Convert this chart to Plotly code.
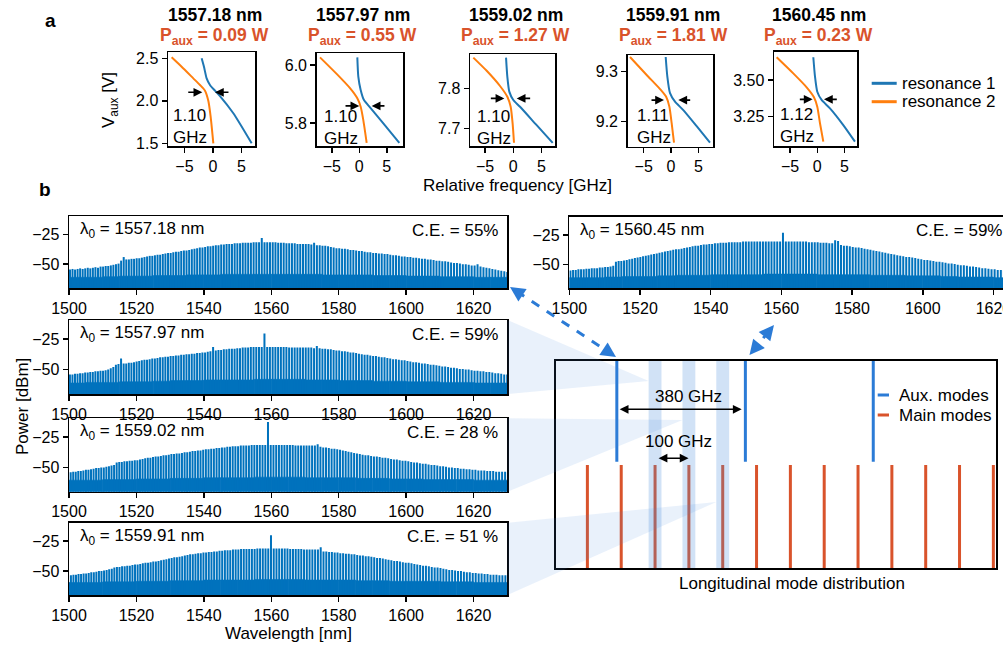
import math
import plotly.graph_objects as go

W, H = 1003, 647
C_NM_THZ = 299792.458
SPACING_THZ = 0.1
FONT = "Liberation Sans, Arial, sans-serif"
BLUE_R1 = "#1f77b4"
ORANGE_R2 = "#ff7f0e"
RED = "#d9532b"
AUXBLUE = "#2b7bd6"
SPEC = "#0072bd"

# ---------------- panel a data ----------------
a_wavelengths = ["1557.18 nm", "1557.97 nm", "1559.02 nm", "1559.91 nm", "1560.45 nm"]
a_paux = ["0.09", "0.55", "1.27", "1.81", "0.23"]
a_gap = ["1.10", "1.10", "1.10", "1.11", "1.12"]

res1_f = [[-1.99, -1.58, -1.11, -0.53, 0.35, 1.23, 3.57, 6.78],
          [-0.36, -0.18, 0.25, 0.85, 1.95, 4.37, 7.28],
          [-1.29, -1.06, -0.71, 0.0, 1.19, 4.14, 6.98],
          [-0.97, -0.67, -0.18, 0.73, 2.25, 4.69, 7.13],
          [-0.73, -0.42, 0.0, 0.80, 2.34, 4.79, 6.94]]
res1_v = [[2.50, 2.40, 2.264, 2.186, 2.119, 2.056, 1.853, 1.50],
          [6.026, 5.960, 5.914, 5.879, 5.854, 5.799, 5.732],
          [7.877, 7.829, 7.792, 7.771, 7.754, 7.708, 7.664],
          [9.329, 9.290, 9.257, 9.240, 9.223, 9.191, 9.158],
          [3.655, 3.523, 3.420, 3.364, 3.307, 3.193, 3.080]]
res2_f = [[-7.25, -5.5, -3.45, -2.28, -1.4, -0.82, -0.41, 0.06],
          [-7.15, -4.12, -1.69, -0.36, 0.25, 0.73, 1.34],
          [-7.09, -4.72, -2.36, -1.06, -0.47, -0.12, 0.12],
          [-7.5, -4.45, -2.01, -0.91, -0.30, 0.12, 0.55],
          [-7.48, -4.42, -1.96, -0.61, 0.0, 0.5, 1.11]]
res2_v = [[2.511, 2.40, 2.264, 2.186, 2.119, 2.0, 1.813, 1.50],
          [6.026, 5.969, 5.920, 5.885, 5.856, 5.810, 5.732],
          [7.877, 7.844, 7.806, 7.779, 7.754, 7.712, 7.664],
          [9.329, 9.293, 9.265, 9.250, 9.230, 9.197, 9.158],
          [3.655, 3.545, 3.450, 3.382, 3.318, 3.205, 3.080]]
# gap arrows: (y, left tail, left tip, right tail, right tip)
gap_arrows = [(2.10, -4.6, -1.87, 2.98, 0.35),
              (5.859, -2.78, 0.0, 4.85, 2.25),
              (7.775, -4.25, -1.59, 3.25, 0.6),
              (9.243, -3.84, -1.28, 3.78, 1.34),
              (3.368, -3.49, -0.86, 3.87, 1.23)]
gap_text_pos = [(-7.4, 1.70), (-6.85, 5.785), (-6.8, 7.703), (-6.58, 9.191), (-7.2, 3.193)]
a_xrange = [(-7.89, 7.37), (-7.75, 7.95), (-7.68, 7.39), (-7.92, 7.68), (-7.97, 7.37)]
a_yrange = [(1.468, 2.574), (5.721, 6.041), (7.656, 7.886), (9.15, 9.333), (3.05, 3.693)]
a_yticks = [[1.5, 2.0, 2.5], [5.8, 6.0], [7.7, 7.8], [9.2, 9.3], [3.25, 3.50]]
a_yfmt = [".1f", ".1f", ".1f", ".1f", ".2f"]

# ---------------- panel b data ----------------
pumps_nm = [1557.18, 1557.97, 1559.02, 1559.91, 1560.45]
ce_text = ["55%", "59%", "28 %", "51 %", "59%"]

peaks_1557_18 = [
    -54.5, -54, -54.5, -54, -53.5, -54, -53.5, -53, -53.5, -53,
    -52.5, -53, -52, -52, -51.5, -51.5, -51, -50.5, -50, -49.5,
    -47, -44, -46, -46, -45.5, -45.5, -45, -45, -44.5, -44,
    -43.5, -43, -43, -42.5, -42, -42, -41.5, -41, -40.5, -40.5,
    -40, -39.5, -39.5, -39, -38.5, -38.5, -38, -37.5, -37, -36.5,
    -36, -36, -35.5, -35, -35, -34.5, -34, -34, -33.5, -33.5,
    -33, -33, -33, -32.5, -32.5, -32.5, -32, -32, -32, -32,
    -31.5, -31.5, -31.5, -28, -31.5, -31.5, -31.5, -31.5, -31.5, -32,
    -32, -32, -32.5, -32.5, -32.5, -32.5, -33, -33, -33, -33,
    -33, -33.5, -32, -34, -34, -34.5, -34.5, -35, -35.5, -36,
    -36.5, -36.5, -37, -37, -37.5, -38, -38, -38.5, -39, -39,
    -39.5, -40, -40, -40.5, -40.5, -41, -41, -41.5, -41.5, -42,
    -42.5, -42.5, -43, -43.5, -43.5, -44, -44, -44.5, -44.5, -45,
    -45.5, -45.5, -46, -46, -46.5, -47, -47, -47.5, -47.5, -48,
    -48.5, -49, -49, -49.5, -50, -50, -50.5, -51, -51, -50,
    -52, -52.5, -53, -53.5, -54, -54.5, -55, -55.5, -56, -56.5]
peaks_1557_97 = [
    -54, -54, -53.5, -53.5, -53, -53, -52.5, -52.5, -52, -52,
    -51.5, -51.5, -51, -51, -50.5, -50, -49, -48, -46, -45.5,
    -41, -45, -45, -44.5, -44.5, -44, -43.5, -43, -42.5, -42,
    -42, -41.5, -41, -41, -40.5, -40, -40, -39.5, -39.5, -39,
    -39, -38.5, -38.5, -38, -38, -37.5, -37.5, -37, -37, -36.5,
    -36.5, -36, -36, -35.5, -35, -31.6, -34.5, -34, -34, -33.5,
    -33.5, -33, -33, -33, -32.5, -32.5, -32, -32, -32, -31.5,
    -31.5, -31.5, -31.5, -31.5, -20.5, -31.5, -31.5, -31.5, -31.5, -31.5,
    -31.5, -31.5, -31.5, -32, -32, -32, -32, -32, -32, -32,
    -32, -32, -32.5, -30.8, -32.5, -33, -33, -33.5, -33.5, -34,
    -34.5, -34.5, -35, -35, -35.5, -36, -36, -36.5, -37, -37.5,
    -38, -38, -38.5, -39, -39, -39.5, -40, -40, -40.5, -41,
    -41.5, -41.5, -42, -42.5, -42.5, -43, -43.5, -44, -44, -44.5,
    -45, -45, -45.5, -46, -46, -46.5, -47, -47.5, -47.5, -48,
    -48.5, -48.5, -49, -49.5, -49.5, -50, -50, -50.5, -51, -51,
    -51.5, -51.5, -52, -52, -52.5, -53, -53, -53.5, -54, -54]
peaks_1559_02 = [
    -54, -53.5, -53.5, -53, -53, -52.5, -52, -52, -51.5, -51,
    -50.5, -50.5, -50, -50, -49.5, -49, -48.5, -48, -46, -45.5,
    -45.5, -45, -45, -44.5, -44.5, -44, -44, -43.5, -43, -42.5,
    -42, -42, -41.5, -41, -41, -40.5, -40, -40, -39.5, -39,
    -39, -38.5, -38.5, -38, -37.5, -37.5, -37, -36.5, -36.5, -36,
    -36, -35.5, -35, -35, -34.5, -34.5, -34, -34, -33.5, -33.5,
    -33, -33, -32.5, -32.5, -32.5, -32, -32, -32, -32, -31.5,
    -31.5, -31.5, -31.5, -31.5, -31.5, -12.6, -31.5, -31.5, -31.5, -31.5,
    -31.5, -31.5, -31.5, -31.5, -31.5, -32, -32, -32, -32, -32,
    -32, -32, -32, -30.8, -33, -33.5, -33.5, -34, -34.5, -34.5,
    -35, -35.5, -36, -36.5, -37, -37.5, -38, -38.5, -39, -39.5,
    -40, -40, -40.5, -41, -41, -41.5, -42, -42, -42.5, -43,
    -43.5, -43.5, -44, -44.5, -44.5, -45, -45.5, -46, -46, -46.5,
    -47, -47, -47.5, -48, -48, -48.5, -49, -49, -49.5, -50,
    -50, -50.5, -50.5, -51, -51, -51.5, -51.5, -52, -52, -52.5,
    -52.5, -52.5, -53, -53, -53, -53.5, -53.5, -53.5, -53.5]
peaks_1559_91 = [
    -53.5, -53, -53, -52.5, -52.5, -52, -52, -51.5, -51, -51,
    -50.5, -50, -50, -49.5, -49, -48.5, -48, -47, -46.5, -46.5,
    -46, -46, -45.5, -45.5, -45, -44.5, -44.5, -44, -43.5, -43,
    -43, -42.5, -42, -42, -41.5, -41, -40.5, -40, -39.5, -39,
    -38.5, -38.5, -38, -37.5, -37, -36.5, -36, -36, -35.5, -35,
    -35, -34.5, -34.5, -34, -34, -33.5, -33.5, -33, -33, -32.5,
    -32.5, -32.5, -32, -32, -32, -31.5, -31.5, -31.5, -31.5, -31.5,
    -31.5, -31, -31, -31, -31, -31, -20, -31, -31, -31,
    -31, -31, -31, -31.5, -31.5, -31.5, -31.5, -31.5, -32, -32,
    -32, -32, -32, -32, -30, -33.5, -33.5, -34, -34, -34.5,
    -34.5, -35, -35, -35.5, -35.5, -36, -36, -36.5, -37, -37,
    -37.5, -37.5, -38, -38.5, -39, -39, -39.5, -40, -40.5, -41,
    -41.5, -41.5, -42, -42.5, -43, -43, -43.5, -44, -44.5, -45,
    -45.5, -45.5, -46, -46.5, -47, -47, -47.5, -48, -48.5, -49,
    -49, -49.5, -50, -50, -50.5, -51, -51, -51.5, -51.5, -52,
    -52, -52.5, -52.5, -53, -53, -53, -53.5, -53.5, -53.5]
peaks_1560_45 = [
    -55, -54.5, -54.5, -54, -54, -54, -53.5, -53.5, -53, -53,
    -53, -52.5, -52.5, -52, -52, -51.5, -51, -47.5, -47, -47,
    -46.5, -46, -45.5, -45, -44.5, -44, -43.5, -43, -42.5, -42,
    -41.5, -41, -40.5, -40, -39.5, -39, -38.5, -38, -37.5, -37,
    -37, -36.5, -36, -35.5, -35, -34.5, -34, -34, -33.5, -33,
    -33, -32.5, -32.5, -32, -32, -31.5, -31.5, -31.5, -31, -31,
    -31, -31, -31, -30.5, -30.5, -30.5, -30.5, -30.5, -30.5, -30.5,
    -30.5, -30.5, -30.5, -30.5, -30.5, -30.5, -30.5, -23, -30.5, -30.5,
    -30.5, -30.5, -30.5, -30.5, -30.5, -30.5, -31, -31, -31, -31,
    -31.5, -31.5, -31.5, -32, -32, -29.5, -30, -33.5, -34, -34,
    -34.5, -35, -35.5, -35.5, -36, -36.5, -37, -37.5, -38, -38.5,
    -39, -39.5, -40, -40.5, -41, -41.5, -42, -42.5, -43, -43.5,
    -43.5, -44, -44.5, -45, -45.5, -46, -46, -46.5, -47, -47.5,
    -47.5, -48, -48.5, -49, -49, -49.5, -50, -50.5, -50.5, -51,
    -51.5, -51.5, -52, -52.5, -53, -53, -53.5, -54, -54, -54.5, -54.5, -55]
peaks_all = [peaks_1557_18, peaks_1557_97, peaks_1559_02, peaks_1559_91, peaks_1560_45]

floor_seg_nm = [1502.5 + 5 * k for k in range(26)]
floor_1557_18 = [-61, -61, -60.5, -60, -60, -59.5, -59.5, -59, -59, -58.5, -58.5, -58.5, -58.5,
                 -58.5, -58.5, -59, -59, -59, -59.5, -59.5, -60, -60, -60.5, -60.5, -61, -61]
floor_1557_97 = [-61, -60.5, -60.5, -60, -60, -59.5, -59, -59, -58.5, -58.5, -58.5, -58, -58,
                 -58, -58.5, -58.5, -59, -59, -59.5, -59.5, -60, -60, -60.5, -60.5, -61, -61]
floor_1559_02 = [-60.5, -60.5, -60, -60, -59.5, -59.5, -59, -59, -58.5, -58.5, -58.5, -58, -58,
                 -58, -58.5, -58.5, -58.5, -59, -59, -59.5, -59.5, -60, -60, -60, -60.5, -60.5]
floor_1559_91 = [-59.5, -59.5, -59, -59, -58.5, -58.5, -58, -58, -57.5, -57.5, -57.5, -57, -57,
                 -57, -57.5, -57.5, -57.5, -58, -58, -58.5, -58.5, -58.5, -59, -59, -59.5, -59.5]
floor_1560_45 = [-61, -61, -60.5, -60, -60, -59.5, -59, -59, -58.5, -58.5, -58.5, -58, -58,
                 -58, -58.5, -58.5, -58.5, -59, -59, -59.5, -59.5, -60, -60.5, -60.5, -61, -61]
floors_all = [floor_1557_18, floor_1557_97, floor_1559_02, floor_1559_91, floor_1560_45]

# ---------------- mode distribution data ----------------
main_modes_ghz = [0, 100, 200, 300, 400, 500, 600, 700, 800, 900, 1000, 1100, 1200]
aux_modes_ghz = [87, 467, 845]
highlight_modes_ghz = [200, 300, 400]

# ---------------- layout geometry (pixels) ----------------
def X(px):
    return px / W

def Y(py):
    return 1 - py / H

a_box = [(168, 255, 52, 146), (316.7, 403, 53, 146), (470, 555, 54, 146),
         (627.7, 713, 55, 146.7), (774, 857.3, 51.7, 146)]
b_box = [(69, 507.3, 216, 288), (69, 507.3, 320, 394), (69, 507.3, 418.3, 491.7),
         (69, 507.3, 522.7, 595), (569.3, 1003, 216.7, 288.3)]
b_xrange = [(1500, 1630)] * 4 + [(1500, 1622.7)]
mode_box = (556, 996, 361, 568.3)

fig = go.Figure()
layout = dict(width=W, height=H, margin=dict(l=0, r=0, t=0, b=0, autoexpand=False),
              template="none",
              paper_bgcolor="white", plot_bgcolor="white", showlegend=False,
              font=dict(family=FONT, size=17, color="black"), barmode="overlay")

def axcommon():
    return dict(showgrid=False, zeroline=False, showline=True, linecolor="black", linewidth=1.5,
                mirror=True, ticks="outside", ticklen=5, tickwidth=1.5, tickcolor="black",
                automargin=False, ticklabeloverflow="allow",
                tickfont=dict(family=FONT, size=16, color="black"))

annotations = []
shapes = []

def ann(x, y, text, xanchor="center", yanchor="middle", size=17, color="black", **kw):
    d = dict(x=x, y=y, xref="paper", yref="paper", text=text, showarrow=False,
             xanchor=xanchor, yanchor=yanchor, font=dict(family=FONT, size=size, color=color))
    d.update(kw)
    annotations.append(d)

def axname(i):
    return "" if i == 1 else str(i)

# panel a subplots
for k in range(5):
    i = k + 1
    x0, x1, y0, y1 = a_box[k]
    xa = axcommon()
    xa.update(domain=[X(x0), X(x1)], range=list(a_xrange[k]), tickvals=[-5, 0, 5],
              anchor="y" + axname(i))
    ya = axcommon()
    ya.update(domain=[Y(y1), Y(y0)], range=list(a_yrange[k]), tickvals=a_yticks[k],
              tickformat=a_yfmt[k], anchor="x" + axname(i))
    layout["xaxis" + axname(i)] = xa
    layout["yaxis" + axname(i)] = ya
    fig.add_trace(go.Scatter(x=res2_f[k], y=res2_v[k], mode="lines",
                             line=dict(color=ORANGE_R2, width=2, shape="spline", smoothing=0.6),
                             xaxis="x" + axname(i), yaxis="y" + axname(i)))
    fig.add_trace(go.Scatter(x=res1_f[k], y=res1_v[k], mode="lines",
                             line=dict(color=BLUE_R1, width=2, shape="spline", smoothing=0.6),
                             xaxis="x" + axname(i), yaxis="y" + axname(i)))
    yv, lt, ltip, rt, rtip = gap_arrows[k]
    for tail, tip in ((lt, ltip), (rt, rtip)):
        annotations.append(dict(x=tip, y=yv, ax=tail, ay=yv, xref="x" + axname(i), yref="y" + axname(i),
                                axref="x" + axname(i), ayref="y" + axname(i), text="", showarrow=True,
                                arrowhead=2, arrowsize=1.1, arrowwidth=1.6, arrowcolor="black"))
    tx, ty = gap_text_pos[k]
    annotations.append(dict(x=tx, y=ty, xref="x" + axname(i), yref="y" + axname(i), text=a_gap[k] + "<br>GHz",
                            showarrow=False, xanchor="left", yanchor="middle", align="left",
                            font=dict(family=FONT, size=17, color="black")))
    cx = (x0 + x1) / 2 + 3
    ann(X(cx), Y(15), "<b>" + a_wavelengths[k] + "</b>", size=17.5)
    ann(X(cx), Y(36), "<b>P<sub>aux</sub> = " + a_paux[k] + " W</b>", size=17.5, color=RED)

# panel b spectra
BASE = -75
for k in range(5):
    i = k + 6
    x0, x1, y0, y1 = b_box[k]
    xa = axcommon()
    xa.update(domain=[X(x0), X(min(x1, W))], range=list(b_xrange[k]),
              tickvals=[1500, 1520, 1540, 1560, 1580, 1600, 1620], anchor="y" + axname(i))
    ya = axcommon()
    ya.update(domain=[Y(y1), Y(y0)], range=[-70, -9.5], tickvals=[-25, -50], anchor="x" + axname(i))
    if k == 4:
        ya["mirror"] = False
    layout["xaxis" + axname(i)] = xa
    layout["yaxis" + axname(i)] = ya
    floor = floors_all[k]
    fig.add_trace(go.Bar(x=floor_seg_nm, y=[f - BASE for f in floor], base=BASE, width=5,
                         marker=dict(color=SPEC, line=dict(color=SPEC, width=0.6)),
                         xaxis="x" + axname(i), yaxis="y" + axname(i)))
    f0 = C_NM_THZ / pumps_nm[k]
    n_lo = math.floor((C_NM_THZ / 1500 - f0) / SPACING_THZ)
    xs, ys = [], []
    for j, p in enumerate(peaks_all[k]):
        lam = C_NM_THZ / (f0 + (n_lo - j) * SPACING_THZ)
        xs += [lam, lam, None]
        ys += [BASE, p, None]
    fig.add_trace(go.Scatter(x=xs, y=ys, mode="lines", line=dict(color=SPEC, width=2.0),
                             xaxis="x" + axname(i), yaxis="y" + axname(i), cliponaxis=True))
    ann(X(x0 + 9), Y(y0 + 14), "λ<sub>0</sub> = %.2f nm" % pumps_nm[k], xanchor="left")
    ann(X(x1 - 7) if k < 4 else X(1004), Y(y0 + 14), "C.E. = " + ce_text[k], xanchor="right")

# mode distribution
mx0, mx1, my0, my1 = mode_box
xa = dict(domain=[X(mx0), X(mx1)], range=[-92.8, 1207.8], showgrid=False, zeroline=False,
          showline=True, linecolor="black", linewidth=2, mirror=True, showticklabels=False,
          ticks="", anchor="y11", automargin=False)
ya = dict(domain=[Y(my1), Y(my0)], range=[0, 1], showgrid=False, zeroline=False,
          showline=True, linecolor="black", linewidth=2, mirror=True, showticklabels=False,
          ticks="", anchor="x11", automargin=False)
layout["xaxis11"] = xa
layout["yaxis11"] = ya
mx, my = [], []
for m in main_modes_ghz:
    mx += [m, m, None]
    my += [0, 0.498, None]
fig.add_trace(go.Scatter(x=mx, y=my, mode="lines", line=dict(color=RED, width=3),
                         xaxis="x11", yaxis="y11"))
axx, axy = [], []
for m in aux_modes_ghz:
    axx += [m, m, None]
    axy += [0.514, 1, None]
fig.add_trace(go.Scatter(x=axx, y=axy, mode="lines", line=dict(color=AUXBLUE, width=3),
                         xaxis="x11", yaxis="y11"))

for m in highlight_modes_ghz:
    shapes.append(dict(type="rect", xref="x11", yref="y11", x0=m - 19, x1=m + 19, y0=0, y1=1,
                       fillcolor="rgba(70,140,220,0.25)", line=dict(width=0), layer="above"))

# wedges from left spectra panels to highlighted modes
wedge_src = [b_box[1], b_box[2], b_box[3]]
wedge_apex = [(648.6, 381), (682.5, 420), (716.3, 502)]
for (bx0, bx1, by0, by1), (ax_, ay_) in zip(wedge_src, wedge_apex):
    path = "M %f %f L %f %f L %f %f Z" % (X(bx1), Y(by0), X(ax_), Y(ay_), X(bx1), Y(by1))
    shapes.append(dict(type="path", xref="paper", yref="paper", path=path,
                       fillcolor="rgba(70,140,220,0.12)", line=dict(width=0), layer="above"))

# dashed double arrows
for (p0, p1) in [((510, 287), (616, 357)), ((774, 325), (749.5, 355))]:
    dx, dy = p1[0] - p0[0], p1[1] - p0[1]
    L = math.hypot(dx, dy)
    ux, uy = dx / L, dy / L
    shapes.append(dict(type="line", xref="paper", yref="paper",
                       x0=X(p0[0] + ux * 8), y0=Y(p0[1] + uy * 8),
                       x1=X(p1[0] - ux * 8), y1=Y(p1[1] - uy * 8),
                       line=dict(color=AUXBLUE, width=3, dash="dash")))
    for tip, sgn in ((p0, -1), (p1, 1)):
        annotations.append(dict(x=X(tip[0]), y=Y(tip[1]), xref="paper", yref="paper",
                                ax=-sgn * ux * 9, ay=-sgn * uy * 9, text="", showarrow=True,
                                arrowhead=2, arrowsize=1.0, arrowwidth=3, arrowcolor=AUXBLUE))

annotations.append(dict(x=456, y=0.767, ax=91, ay=0.767, xref="x11", yref="y11", axref="x11", ayref="y11",
                        text="", showarrow=True, arrowhead=2, arrowside="end+start", arrowsize=1.1,
                        arrowwidth=1.6, arrowcolor="black"))
annotations.append(dict(x=298, y=0.831, xref="x11", yref="y11", text="380 GHz", showarrow=False,
                        xanchor="center", yanchor="middle", font=dict(family=FONT, size=17)))
annotations.append(dict(x=299, y=0.531, ax=206, ay=0.531, xref="x11", yref="y11", axref="x11", ayref="y11",
                        text="", showarrow=True, arrowhead=2, arrowside="end+start", arrowsize=1.1,
                        arrowwidth=1.6, arrowcolor="black"))
annotations.append(dict(x=269, y=0.61, xref="x11", yref="y11", text="100 GHz", showarrow=False,
                        xanchor="center", yanchor="middle", font=dict(family=FONT, size=17)))

# legends
for yy, col, txt in ((395, AUXBLUE, "Aux. modes"), (415, RED, "Main modes")):
    shapes.append(dict(type="line", xref="paper", yref="paper", x0=X(877.7), x1=X(889),
                       y0=Y(yy), y1=Y(yy), line=dict(color=col, width=3)))
    ann(X(897), Y(yy), txt, xanchor="left")
for yy, col, txt in ((83.3, BLUE_R1, "resonance 1"), (101.7, ORANGE_R2, "resonance 2")):
    shapes.append(dict(type="line", xref="paper", yref="paper", x0=X(871.7), x1=X(896.7),
                       y0=Y(yy), y1=Y(yy), line=dict(color=col, width=3)))
    ann(X(900), Y(yy), txt, xanchor="left")

# labels
ann(X(50), Y(20), "<b>a</b>", size=19)
ann(X(45), Y(189), "<b>b</b>", size=19)
ann(X(110), Y(100), "V<sub>aux</sub> [V]", textangle=-90)
ann(X(517), Y(185), "Relative frequency [GHz]")
ann(X(22), Y(407), "Power [dBm]", textangle=-90)
ann(X(288), Y(633), "Wavelength [nm]")
ann(X(792), Y(583), "Longitudinal mode distribution")

layout["annotations"] = annotations
layout["shapes"] = shapes
fig.update_layout(**layout)
fig.write_html("out.html", config={"displayModeBar": False, "staticPlot": True},
               post_script="document.body.style.margin='0';document.body.style.overflow='hidden';")
